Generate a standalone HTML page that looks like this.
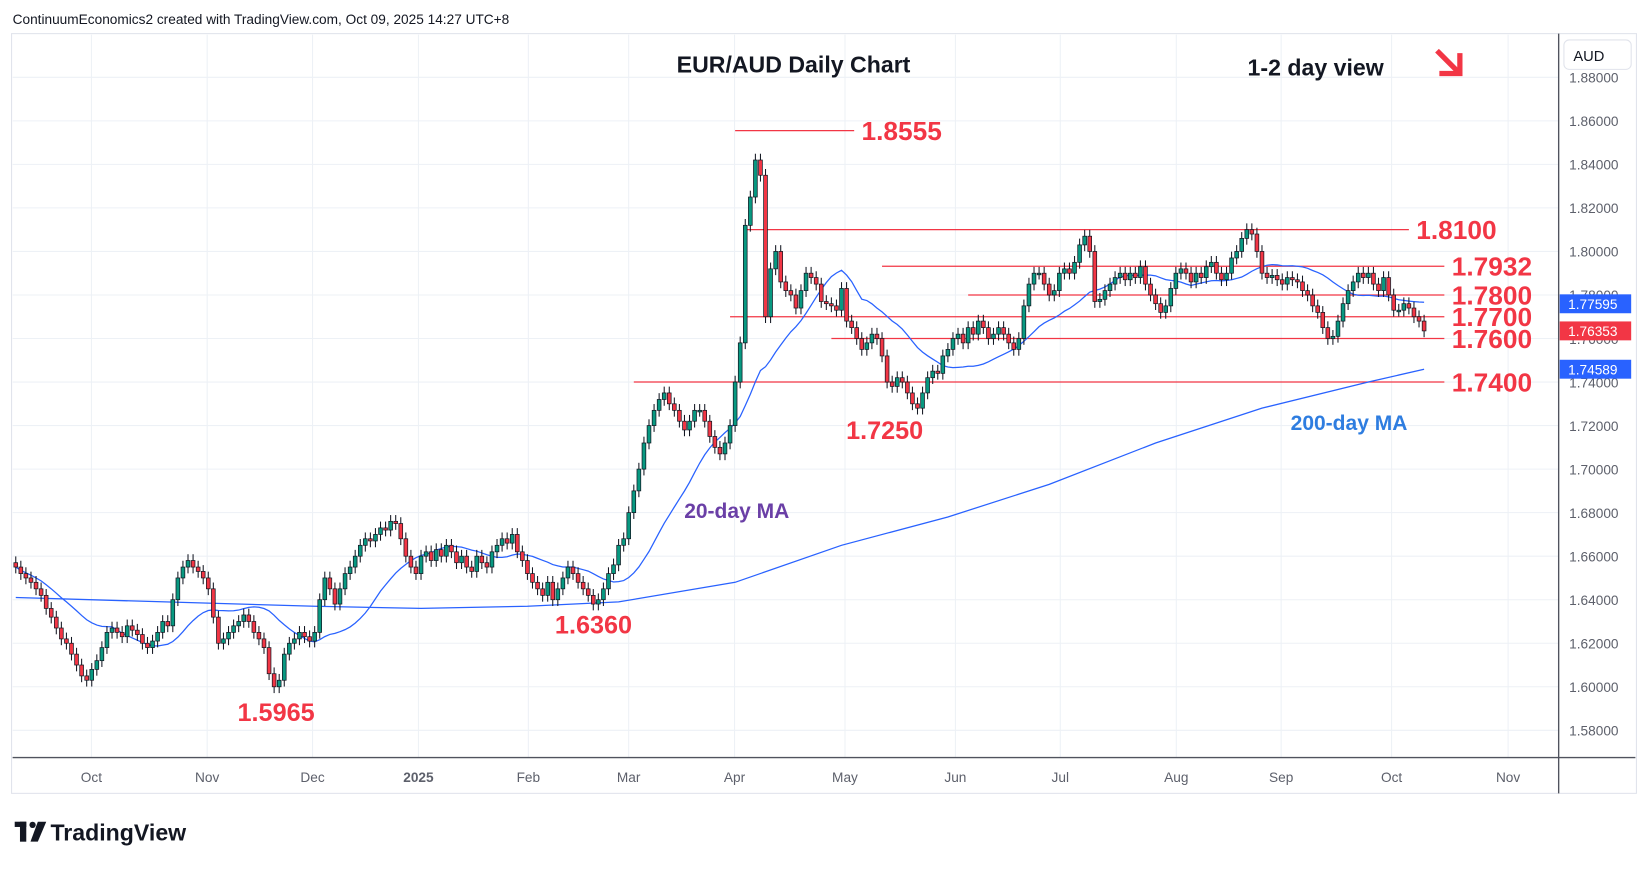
<!DOCTYPE html>
<html><head><meta charset="utf-8"><style>
html,body{margin:0;padding:0;background:#fff;width:1648px;height:869px;overflow:hidden}
svg{display:block;font-family:"Liberation Sans",sans-serif}
</style></head><body>
<svg id="chart" width="1648" height="869" viewBox="0 0 1568 827" preserveAspectRatio="none" xmlns="http://www.w3.org/2000/svg">
<rect x="0" y="0" width="1568" height="827" fill="#fff"/>
<text x="12" y="23" font-size="13" fill="#131722">ContinuumEconomics2 created with TradingView.com, Oct 09, 2025 14:27 UTC+8</text>
<rect x="11" y="32" width="1546" height="723" fill="none" stroke="#e0e3eb"/>
<g id="grid"></g>
<g id="levels"></g>
<g id="mas"></g>
<g id="candles"></g>
<line x1="12" y1="721" x2="1556" y2="721" stroke="#50535e" stroke-width="1.3"/>
<line x1="1483" y1="32" x2="1483" y2="755" stroke="#50535e" stroke-width="1.3"/>
<g id="yaxis"></g>
<g id="xaxis"></g>
<rect x="1488" y="38" width="64" height="28" rx="5" fill="#fff" stroke="#e0e3eb"/>
<text x="1497" y="58" font-size="14" fill="#131722">AUD</text>
<text x="755" y="69" font-size="22" font-weight="bold" text-anchor="middle" fill="#131722">EUR/AUD Daily Chart</text>
<text x="1187" y="72" font-size="22" font-weight="bold" fill="#131722">1-2 day view</text>
<g stroke="#f23645" stroke-width="5" fill="none" stroke-linecap="square">
<line x1="1369" y1="50" x2="1387" y2="68"/><polyline points="1372,70 1389,70 1389,53"/></g>
<text x="1228" y="409" font-size="20" font-weight="bold" fill="#2e7de0">200-day MA</text>
<text x="651" y="493" font-size="20" font-weight="bold" fill="#6a3fa6">20-day MA</text>
<text x="805" y="418" font-size="24" font-weight="bold" fill="#f23645">1.7250</text>
<text x="528" y="603" font-size="24" font-weight="bold" fill="#f23645">1.6360</text>
<text x="226" y="686" font-size="24" font-weight="bold" fill="#f23645">1.5965</text>
<g>
<rect x="14" y="782" width="11" height="5" fill="#131722"/><rect x="19" y="782" width="6" height="19" fill="#131722"/>
<circle cx="31" cy="785" r="3" fill="#131722"/><polygon points="36,782 44,782 36,801 29,801" fill="#131722"/>
<text x="48" y="800" font-size="22" font-weight="bold" fill="#131722">TradingView</text></g>
</svg>
<script>
const closes=[1.655,1.652,1.650,1.648,1.645,1.642,1.636,1.632,1.627,1.622,1.620,
1.615,1.610,1.605,1.603,1.608,1.612,1.618,1.625,1.627,1.625,1.623,1.628,1.626,1.624,1.620,1.618,1.621,1.625,1.630,1.628,1.640,1.650,1.655,
1.658,1.655,1.653,1.650,1.645,1.632,1.620,1.622,1.625,1.628,1.630,1.633,1.630,1.625,1.622,1.618,1.606,1.600,1.603,1.615,1.620,
1.622,1.625,1.623,1.621,1.625,1.640,1.650,1.645,1.638,1.645,1.652,1.655,1.660,1.665,1.668,1.667,1.670,1.673,1.672,1.676,1.675,1.668,
1.660,1.655,1.652,1.660,1.662,1.658,1.663,1.660,1.665,1.662,1.657,1.660,1.655,1.653,1.660,1.657,1.655,1.662,1.665,1.668,1.666,1.670,1.662,
1.658,1.652,1.648,1.645,1.642,1.648,1.640,1.645,1.650,1.655,1.652,1.648,1.645,1.642,1.638,1.640,1.645,1.652,1.656,1.665,
1.668,1.680,1.690,1.700,1.712,1.720,1.727,1.732,1.735,1.730,1.727,1.722,1.718,1.722,1.727,1.727,1.722,1.715,1.710,1.707,1.712,
1.720,1.740,1.758,1.812,1.825,1.842,1.835,1.770,1.792,1.800,1.786,1.782,1.780,1.774,1.782,1.790,1.788,1.785,1.777,1.776,1.775,1.773,
1.783,1.768,1.765,1.760,1.755,1.758,1.762,1.760,1.752,1.740,1.738,1.742,1.740,1.735,1.730,1.728,1.735,1.742,1.745,1.744,1.752,1.755,
1.760,1.762,1.758,1.765,1.762,1.768,1.765,1.760,1.762,1.765,1.762,1.758,1.755,1.760,1.775,1.785,1.790,1.790,1.785,1.780,1.782,
1.790,1.792,1.790,1.795,1.803,1.807,1.800,1.777,1.778,1.782,1.785,1.788,1.790,1.787,1.790,1.788,1.793,1.785,1.780,1.776,1.772,1.775,1.783,
1.790,1.792,1.790,1.786,1.790,1.788,1.793,1.795,1.790,1.787,1.790,1.797,1.800,1.806,1.810,1.808,1.800,1.790,1.788,1.789,1.787,
1.785,1.788,1.787,1.786,1.782,1.780,1.775,1.772,1.765,1.760,1.761,1.768,1.776,1.782,1.786,1.790,1.788,1.790,1.785,1.782,1.788,1.780,
1.773,1.773,1.776,1.774,1.770,1.768,1.7635];
const ma200Idx=[0,59,80,101,119,142,163,184,204,225,246,267,278];
const ma200Val=[1.641,1.637,1.636,1.637,1.639,1.648,1.665,1.678,1.693,1.712,1.728,1.740,1.7459];
const yTicks=[1.88,1.86,1.84,1.82,1.80,1.78,1.76,1.74,1.72,1.70,1.68,1.66,1.64,1.62,1.60,1.58];
const monthLabels=["Oct","Nov","Dec","2025","Feb","Mar","Apr","May","Jun","Jul","Aug","Sep","Oct","Nov"];
const monthIdx=[15.35,38.2,59,79.9,101.6,121.4,142.3,164.1,185.9,206.6,229.5,250.2,272,295];
const levelVals=[1.8555,1.81,1.7932,1.78,1.77,1.76,1.74];
const levelStart=[142,144,171,188,141,161,122];
const levelEnd=[165.5,275,282,282,282,282,282];
const levelText=["1.8555","1.8100","1.7932","1.7800","1.7700","1.7600","1.7400"];
const NS="http://www.w3.org/2000/svg";
const yS=p=>115+(1.86-p)/0.02*41.43;
const xS=i=>15+i*4.82;
function mk(t,a,parent){const e=document.createElementNS(NS,t);for(const k in a)e.setAttribute(k,a[k]);parent.appendChild(e);return e;}
const G=id=>document.getElementById(id);
yTicks.forEach((v)=>{const yy=yS(v);if(yy<40)return;
 const l=mk('line',{x1:12,x2:1483,y1:yy,y2:yy,stroke:'#edf1f6'},G('grid'));
 
 
 const t=mk('text',{x:1493,y:yy+5,'font-size':13,fill:'#5d606b'},G('yaxis'));t.textContent=v.toFixed(5);
 
 });
monthLabels.forEach((m,i)=>{const xx=xS(monthIdx[i])-2;
 const l=mk('line',{x1:xx,x2:xx,y1:33,y2:721,stroke:'#edf1f6'},G('grid'));
 
 
 const t=mk('text',{x:xx,y:744,'font-size':13,fill:'#5d606b','text-anchor':'middle','font-weight':m==='2025'?'bold':'normal'},G('xaxis'));t.textContent=m;
 
 });
levelVals.forEach((v,i)=>{const yy=yS(v);
 const l=mk('line',{x1:xS(levelStart[i]),x2:xS(levelEnd[i]),y1:yy,y2:yy,stroke:'#f23645','stroke-width':1.2},G('levels'));
 
 
 const t=mk('text',{x:xS(levelEnd[i])+7,y:yy+9,'font-size':25,'font-weight':'bold',fill:'#f23645'},G('levels'));t.textContent=levelText[i];
 
 });
let pts=[];for(let i=0;i<closes.length;i++){const s=closes.slice(Math.max(0,i-19),i+1);pts.push(xS(i)+','+yS(s.reduce((a,b)=>a+b,0)/s.length));}
const m20=mk('polyline',{points:pts.join(' '),fill:'none',stroke:'#2962ff','stroke-width':1.2},G('mas'));


pts=ma200Idx.map((ix,k)=>xS(ix)+','+yS(ma200Val[k]));
const m200=mk('polyline',{points:pts.join(' '),fill:'none',stroke:'#2962ff','stroke-width':1.2},G('mas'));


closes.forEach((c,i)=>{const o=i?closes[i-1]:c+0.002;const up=c>=o;const yo=yS(o),yc=yS(c);
 const top=Math.min(yo,yc),bot=Math.max(yo,yc);const xx=xS(i);
 const w=mk('line',{x1:xx,x2:xx,y1:top-6,y2:bot+6,stroke:'#131722','stroke-width':1},G('candles'));
 
 
 const r=mk('rect',{x:xx-1.8,y:top,width:3.6,height:Math.max(1.5,bot-top),fill:up?'#089981':'#f23645',stroke:'#131722','stroke-width':0.7},G('candles'));
 
 });
const tags=[[1.77595,'#2962ff','1.77595'],[closes[closes.length-1],'#f23645','1.76353'],[1.74589,'#2962ff','1.74589']];
tags.forEach(tg=>{const yy=yS(tg[0]);
 const r=mk('rect',{x:1484,y:yy-9,width:68,height:18,fill:tg[1]},G('yaxis'));
 
 
 const t=mk('text',{x:1492,y:yy+5,'font-size':13,fill:'#fff'},G('yaxis'));t.textContent=tg[2];
 
 });
</script>
</body></html>
